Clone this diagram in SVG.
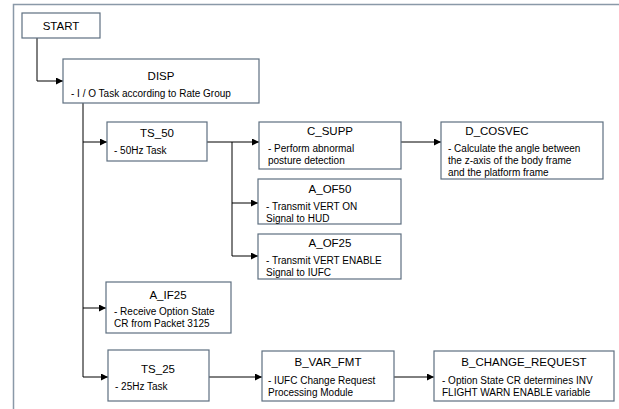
<svg xmlns="http://www.w3.org/2000/svg" width="619" height="409" viewBox="0 0 619 409">
<defs>
<marker id="ah" viewBox="0 0 10 10" refX="10" refY="5" markerWidth="7" markerHeight="7" markerUnits="userSpaceOnUse" orient="auto">
<path d="M0,0 L10,5 L0,10 z" fill="#000"/>
</marker>
<style>
.box{fill:#fff;stroke:#5e6f80;stroke-width:1.2}
.t{font-family:"Liberation Sans",Arial,sans-serif;font-size:11.5px;fill:#000;text-anchor:middle;dominant-baseline:central}
.d{font-family:"Liberation Sans",Arial,sans-serif;font-size:10px;fill:#000;dominant-baseline:central}
.c{fill:none;stroke:#000;stroke-width:1}
</style>
</defs>
<rect width="619" height="409" fill="#fff"/>
<path d="M13.5,420 V4.5 H630" fill="none" stroke="#8a99a8" stroke-width="1.5"/>
<g id="connectors">
<path class="c" d="M37,38 V81 H63" marker-end="url(#ah)"/>
<path class="c" d="M83,103 V377 H108" marker-end="url(#ah)"/>
<path class="c" d="M83,142 H107" marker-end="url(#ah)"/>
<path class="c" d="M83,308 H106" marker-end="url(#ah)"/>
<path class="c" d="M207,142 H259" marker-end="url(#ah)"/>
<path class="c" d="M232,142 V256 H258" marker-end="url(#ah)"/>
<path class="c" d="M232,203 H258" marker-end="url(#ah)"/>
<path class="c" d="M401,142 H441" marker-end="url(#ah)"/>
<path class="c" d="M209,377 H262" marker-end="url(#ah)"/>
<path class="c" d="M394,377 H434" marker-end="url(#ah)"/>
</g>
<g id="start"><rect class="box" x="22" y="13" width="78" height="25"/><text class="t" x="61" y="25.5">START</text></g>
<g id="disp"><rect class="box" x="63" y="59" width="196" height="44"/><text class="t" x="161" y="76">DISP</text><text class="d" x="71" y="93">- I / O Task according to Rate Group</text></g>
<g id="ts50"><rect class="box" x="107" y="122" width="100" height="39"/><text class="t" x="157" y="133">TS_50</text><text class="d" x="114" y="150">- 50Hz Task</text></g>
<g id="csupp"><rect class="box" x="259" y="122" width="142" height="47"/><text class="t" x="330" y="131">C_SUPP</text><text class="d" x="268" y="148">- Perform abnormal</text><text class="d" x="268" y="160.5">posture detection</text></g>
<g id="dcosvec"><rect class="box" x="441" y="122" width="162" height="57"/><text class="t" x="497" y="131">D_COSVEC</text><text class="d" x="448" y="148">- Calculate the angle between</text><text class="d" x="448" y="160">the z-axis of the body frame</text><text class="d" x="448" y="172">and the platform frame</text></g>
<g id="aof50"><rect class="box" x="258" y="179" width="143" height="45"/><text class="t" x="330" y="189">A_OF50</text><text class="d" x="266" y="206">- Transmit VERT ON</text><text class="d" x="266" y="218">Signal to HUD</text></g>
<g id="aof25"><rect class="box" x="258" y="234" width="143" height="45"/><text class="t" x="330" y="243">A_OF25</text><text class="d" x="266" y="260">- Transmit VERT ENABLE</text><text class="d" x="266" y="272">Signal to IUFC</text></g>
<g id="aif25"><rect class="box" x="106" y="282" width="125" height="51"/><text class="t" x="168" y="295">A_IF25</text><text class="d" x="114" y="311.5">- Receive Option State</text><text class="d" x="114" y="323.5">CR from Packet 3125</text></g>
<g id="ts25"><rect class="box" x="108" y="350" width="101" height="51"/><text class="t" x="158" y="369">TS_25</text><text class="d" x="115" y="386">- 25Hz Task</text></g>
<g id="bvarfmt"><rect class="box" x="262" y="351" width="132" height="50"/><text class="t" x="328" y="362">B_VAR_FMT</text><text class="d" x="268" y="380">- IUFC Change Request</text><text class="d" x="268" y="392">Processing Module</text></g>
<g id="bchange"><rect class="box" x="434" y="351" width="180" height="50"/><text class="t" x="524" y="362">B_CHANGE_REQUEST</text><text class="d" x="442" y="380">- Option State CR determines INV</text><text class="d" x="442" y="392">FLIGHT WARN ENABLE variable</text></g>
</svg>
